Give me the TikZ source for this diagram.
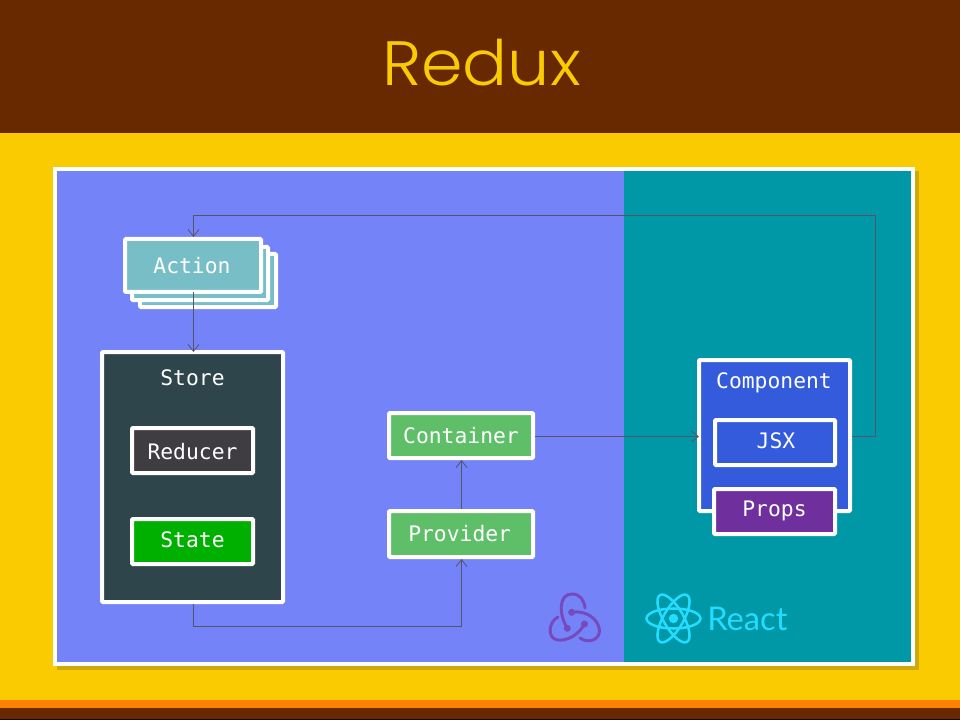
\documentclass[tikz,border=0pt]{standalone}
\usepackage{fontspec}
\usepackage{graphicx}
\setmonofont{DejaVu Sans Mono}
\newfontfamily\titlefont{Poppins Light}
\newfontfamily\reactfont{Lato}
\usetikzlibrary{arrows.meta,calc}
\definecolor{hdr}{HTML}{682800}
\definecolor{ylw}{HTML}{F9CB00}
\definecolor{shd}{HTML}{CFA90C}
\definecolor{org}{HTML}{FF8000}
\definecolor{pblue}{HTML}{7483F7}
\definecolor{pteal}{HTML}{0097A7}
\definecolor{act}{HTML}{78BEC6}
\definecolor{sto}{HTML}{2E454B}
\definecolor{red}{HTML}{3F3C42}
\definecolor{stt}{HTML}{00B000}
\definecolor{grn}{HTML}{5FBF68}
\definecolor{cmp}{HTML}{335BDC}
\definecolor{prp}{HTML}{6F309E}
\definecolor{lnk}{HTML}{55556A}
\definecolor{rct}{HTML}{22DDFF}
\definecolor{rdx}{HTML}{764ABC}
\tikzset{
 x=0.75pt,y=-0.75pt,
 bx/.style={draw=white,line width=3pt,rounded corners=0.75pt,inner sep=0pt,text=white,font=\ttfamily\fontsize{16}{16}\selectfont},
 tb/.style={text height=#1*1.5pt,text depth=0pt},
 lbl/.style={text=white,inner sep=0pt,anchor=base,font=\ttfamily\fontsize{16}{16}\selectfont},
 conn/.style={draw=lnk,line width=0.75pt,-{Straight Barb[length=5.25pt,width=8.25pt,line width=0.6pt]}},
 atom/.style={draw=rct,line width=1.9pt},
 rdxline/.style={draw=rdx,line width=2.2pt,line cap=round}
}
\begin{document}
\begin{tikzpicture}
\useasboundingbox (0,0) rectangle (960,720);
\fill[ylw] (0,0) rectangle (960,720);
\fill[hdr] (0,0) rectangle (960,133);
\fill[org] (0,700) rectangle (960,708);
\fill[hdr] (0,708) rectangle (960,719);
\fill[black!80!hdr] (0,719) rectangle (960,720);
\node[text=ylw,inner sep=0pt,anchor=base,font=\titlefont\fontsize{47}{47}\selectfont] (title) at (481.5,86) {\scalebox{1.065}[1]{Redux}};
% panel
\fill[shd] (57,171) rectangle (919,670);
\fill[white] (53,167) rectangle (915,666);
\fill[pblue] (57,171) rectangle (624,662);
\fill[pteal] (624,171) rectangle (911,662);
% action stack
\node[bx,fill=act,minimum width=102pt,minimum height=40pt] (act3) at (208,280.5) {};
\node[bx,fill=act,minimum width=102pt,minimum height=40pt] (act2) at (200,273.5) {};
\node[bx,fill=act,minimum width=102pt,minimum height=39.75pt,tb=8.5] (action) at (193,265.5) {\hspace{-1.5pt}Action};
% store
\node[bx,fill=sto,minimum width=135.75pt,minimum height=187.5pt] (store) at (192.5,477) {};
\node[lbl] (storet) at (192.5,385) {Store};
\node[bx,fill=red,minimum width=90.75pt,minimum height=33.75pt,tb=8.5] (reducer) at (192.5,450.5) {Reducer};
\node[bx,fill=stt,minimum width=90.75pt,minimum height=33.75pt,tb=5.5] (state) at (192.5,541.5) {State};
% middle
\node[bx,fill=grn,minimum width=108pt,minimum height=33.75pt,tb=7.5] (container) at (461,435.5) {Container};
\node[bx,fill=grn,minimum width=108pt,minimum height=34.5pt,tb=7] (provider) at (461,534) {\hspace{-2pt}Provider};
% component
\node[bx,fill=cmp,minimum width=113.25pt,minimum height=113.25pt] (component) at (774.5,435.5) {};
\node[lbl] (componentt) at (774,388) {Component};
\node[bx,fill=cmp,minimum width=90pt,minimum height=33.75pt,tb=5.5] (jsx) at (775,442.5) {\hspace{1.5pt}JSX};
\node[bx,fill=prp,minimum width=90.75pt,minimum height=33.75pt,tb=4.5] (props) at (774.5,511.5) {Props};
% connectors
\coordinate (c1) at (875.5,436.5);
\coordinate (c2) at (875.5,215.5);
\coordinate (c3) at (193.5,215.5);
\coordinate (s1) at (193.5,626.5);
\coordinate (s2) at (461.5,626.5);
\draw[conn] (component.east |- c1) -- (c1) -- (c2) -- (c3) -- (c3 |- action.north);
\draw[conn,shorten >=-1.5pt,shorten <=-1.5pt] (action.south -| c3) -- (store.north -| c3);
\draw[conn] (store.south -| s1) -- (s1) -- (s2) -- (provider.south -| s2);
\draw[conn] (provider.north -| s2) -- (container.south -| s2);
\draw[conn,shorten >=-1.5pt] (container.east |- c1) -- (component.west |- c1);
% react logo
\coordinate (rc) at (673.5,618.5);
\draw[atom] (rc) ellipse [x radius=27,y radius=10];
\draw[atom,rotate around={60:(rc)}] (rc) ellipse [x radius=27,y radius=10];
\draw[atom,rotate around={120:(rc)}] (rc) ellipse [x radius=27,y radius=10];
\fill[rct] (rc) circle [radius=4.7];
\node[text=rct,inner sep=0pt,anchor=base west,font=\reactfont\fontsize{24.5}{24.5}\selectfont] (react) at (707,630) {React};
% redux logo
\draw[rdxline] (567.3,628.3) .. controls (559,615) and (558,594) .. (572,594) .. controls (580,594) and (584,600) .. (585,608);
\draw[rdxline] (571.7,612.3) .. controls (585,610) and (598,618) .. (599.5,630) .. controls (600,640) and (588,644) .. (580,638);
\draw[rdxline] (584.5,624) .. controls (578,636) and (566,641) .. (558,640) .. controls (547,639) and (548,622) .. (558,617);
\fill[rdx] (571.7,612.3) circle [radius=3.5] (584.5,624) circle [radius=3.5] (567.3,628.3) circle [radius=3.5];
\end{tikzpicture}
\end{document}
